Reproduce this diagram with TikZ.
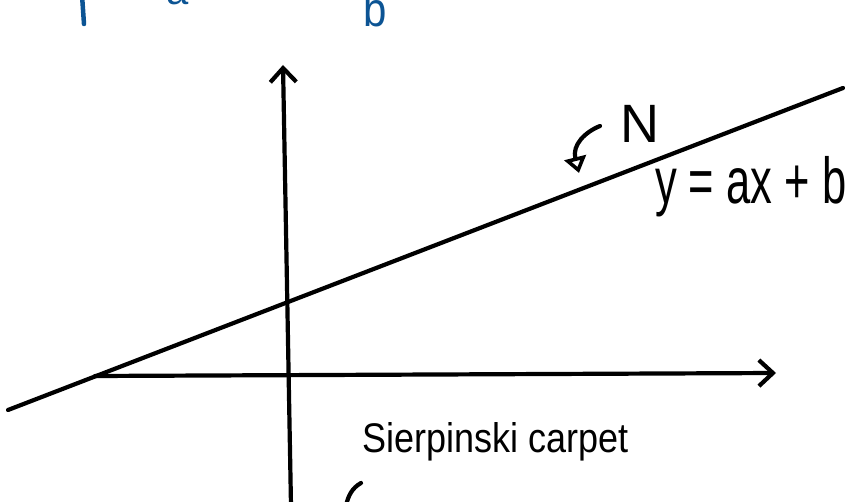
\documentclass[tikz,border=0pt]{standalone}
\usepackage{fontspec}
\setmainfont{Liberation Sans}
\usetikzlibrary{arrows.meta}
\definecolor{inkblue}{RGB}{12,84,148}
\tikzset{
  ink/.style={line width=4.2pt, line cap=round, line join=round, black},
  chev/.style={-{Straight Barb[length=14pt,width=26pt,line width=4.2pt]}},
  hand/.style={inner sep=0pt, anchor=base west}
}
\begin{document}
\begin{tikzpicture}[x=1pt,y=-1pt]
\useasboundingbox (0,0) rectangle (846,502);
% blue partial text at top
\draw[inkblue, line width=4.5pt, line cap=round] (82,-5) -- (84,24);
\node[hand, text=inkblue, font=\fontsize{40}{44}\selectfont] (atop) at (166,5) {a};
\node[hand, text=inkblue, font=\fontsize{42}{46}\selectfont, yscale=1.15] (btop) at (363,27) {b};
% axes
\coordinate (ybot) at (291,506);
\coordinate (ytop) at (283,65);
\coordinate (xl) at (95,376);
\coordinate (xr) at (776,373);
\draw[ink, chev] (ybot) -- (ytop);
\draw[ink, chev] (xl) -- (xr);
% line y = ax + b
\coordinate (l1) at (8,410);
\coordinate (l2) at (843,88);
\draw[ink] (l1) -- (l2);
% N with hooked arrow
\node[hand, font=\fontsize{54}{58}\selectfont] (N) at (620,143) {N};
\coordinate (n1) at (600,126);
\coordinate (n2) at (579,173);
\draw[ink, -{Triangle[open,length=16pt,width=22pt,line width=3.6pt]}] (n1) .. controls (585,132) and (572,145) .. (n2);
% equation
\node[hand, font=\fontsize{50}{54}\selectfont, xscale=0.87, yscale=1.3, anchor=base west] (eq) at (655,204) {y = ax + b};
% Sierpinski carpet
\node[hand, font=\fontsize{36}{40}\selectfont, yscale=1.15] (sc) at (362,452) {Sierpinski carpet};
\coordinate (c1) at (361,483);
\coordinate (c2) at (346,506);
\draw[ink] (c1) .. controls (352,488) and (348,496) .. (c2);
\end{tikzpicture}
\end{document}
